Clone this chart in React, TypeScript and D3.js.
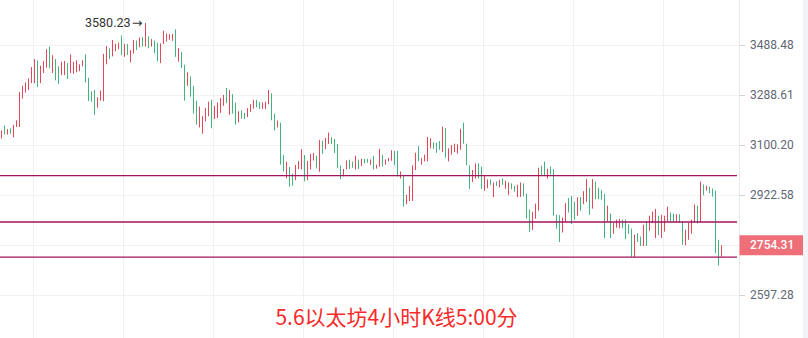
import React from 'react';
import * as d3 from 'd3';

const opens = [
  3124, 3172, 3139, 3162, 3129, 3167, 3167, 3275, 3298, 3308,
  3335, 3335, 3426, 3335, 3375, 3396, 3482, 3375, 3431, 3402,
  3367, 3367, 3415, 3375, 3372, 3378, 3383, 3402, 3450, 3356,
  3303, 3308, 3240, 3267, 3265, 3410, 3474, 3442, 3463, 3471,
  3528, 3440, 3493, 3418, 3454, 3507, 3480, 3522, 3482, 3524,
  3482, 3507, 3498, 3415, 3493, 3503, 3510, 3506, 3554, 3420,
  3460, 3408, 3324, 3362, 3324, 3267, 3165, 3142, 3188, 3207,
  3270, 3197, 3201, 3220, 3247, 3316, 3213, 3292, 3260, 3184,
  3229, 3220, 3204, 3223, 3236, 3270, 3262, 3235, 3235, 3253,
  3295, 3217, 3165, 3183, 3064, 2981, 3021, 2997, 2974, 3014,
  3012, 3064, 2974, 3012, 3044, 3061, 3004, 3116, 3085, 3104,
  3129, 3122, 3104, 3026, 2988, 3012, 3047, 3040, 3012, 3047,
  3024, 3050, 3050, 3029, 3060, 3015, 3022, 3065, 3029, 3041,
  3043, 3079, 3079, 2980, 2991, 2891, 2902, 2902, 3010, 3096,
  3029, 3041, 3041, 3088, 3110, 3108, 3115, 3074, 3163, 3041,
  3065, 3074, 3069, 3083, 3183, 3105, 3027, 2968, 2980, 3034,
  3022, 2937, 2946, 2977, 2916, 2970, 2949, 2980, 2944, 2923,
  2963, 2954, 2916, 2916, 2963, 2927, 2873, 2804, 2842, 2869,
  3025, 3040, 2980, 3022, 3012, 2856, 2854, 2796, 2830, 2912,
  2919, 2899, 2852, 2916, 2891, 2899, 2948, 2876, 2969, 2948,
  2939, 2926, 2832, 2859, 2792, 2812, 2810, 2839, 2839, 2823,
  2809, 2716, 2794, 2783, 2752, 2832, 2802, 2829, 2778, 2852,
  2778, 2799, 2832, 2863, 2859, 2830, 2857, 2832, 2754, 2772,
  2792, 2830, 2886, 2830, 2959, 2938, 2952, 2945, 2938, 2772,
  2718,
];

const closes = [
  3154, 3139, 3159, 3142, 3174, 3192, 3300, 3324, 3338, 3354,
  3399, 3431, 3319, 3404, 3423, 3471, 3394, 3447, 3346, 3332,
  3420, 3423, 3351, 3450, 3420, 3426, 3410, 3426, 3338, 3265,
  3262, 3212, 3280, 3306, 3452, 3484, 3431, 3509, 3493, 3498,
  3447, 3493, 3448, 3468, 3509, 3468, 3519, 3482, 3580.23, 3475,
  3513, 3454, 3422, 3495, 3548, 3536, 3533, 3534, 3440, 3476,
  3395, 3267, 3378, 3282, 3217, 3176, 3244, 3207, 3238, 3263,
  3162, 3247, 3260, 3277, 3289, 3257, 3308, 3217, 3176, 3226,
  3198, 3197, 3238, 3253, 3270, 3241, 3235, 3260, 3262, 3308,
  3192, 3154, 3191, 3029, 3005, 3040, 2952, 2955, 3028, 3042,
  3085, 2970, 3042, 3068, 3071, 3016, 3119, 3068, 3126, 3146,
  3104, 3071, 3018, 2978, 3014, 3044, 3014, 3018, 3061, 3014,
  3050, 3034, 3036, 3048, 3012, 3029, 3086, 3022, 3048, 3053,
  3081, 3027, 2987, 3005, 2883, 2923, 2954, 3027, 3072, 3041,
  3053, 3065, 3130, 3125, 3086, 3072, 3083, 3168, 3055, 3088,
  3100, 3105, 3103, 3160, 3105, 3027, 2944, 3010, 3034, 2980,
  2944, 2989, 2977, 2958, 2966, 2954, 2975, 2958, 2973, 2966,
  2942, 2934, 2958, 2966, 2918, 2842, 2798, 2865, 2893, 3018,
  2991, 2992, 3015, 2994, 2852, 2809, 2765, 2846, 2894, 2863,
  2824, 2839, 2915, 2869, 2936, 2978, 2855, 2978, 2908, 2908,
  2906, 2778, 2886, 2778, 2829, 2839, 2842, 2810, 2774, 2792,
  2717, 2789, 2765, 2752, 2822, 2752, 2852, 2866, 2875, 2788,
  2855, 2852, 2883, 2832, 2830, 2857, 2828, 2756, 2805, 2828,
  2839, 2890, 2826, 2969, 2922, 2955, 2929, 2917, 2729, 2689,
  2754.31,
];

const tickValues = [3488.48, 3288.61, 3100.2, 2922.58, 2755.1, 2597.28];
const levelLines = [2990, 2831, 2716];
const title = '5.6以太坊4小时K线5:00分';

const W = 808;
const H = 338;
const RED = '#e4475a';
const GREEN = '#41b57d';

export default function App() {
  const axisX = 739;
  const n = opens.length;
  const x = d3.scaleLinear().domain([0, n - 1]).range([1.5, 721.5]);
  const y = d3.scaleLog().domain([3488.48, 2597.28]).range([45, 295]);

  const gridIdx = d3.range(8).map((k) => 10.5 + 30 * k);
  const lastPrice = closes[n - 1];
  const highs = opens.map((o, i) => Math.max(o, closes[i]));
  const iMax = d3.maxIndex(highs);
  const maxVal = highs[iMax];
  const fmt = d3.format('.2f');

  return (
    <svg
      width={W}
      height={H}
      style={{ position: 'absolute', left: 0, top: 0, background: '#fff' }}
      fontFamily="Roboto, 'Noto Sans', sans-serif"
    >
      <rect x={0} y={0} width={W} height={H} fill="#ffffff" />
      {tickValues.map((t) => (
        <line key={'h' + t} x1={0} x2={axisX} y1={Math.round(y(t)) + 0.5} y2={Math.round(y(t)) + 0.5} stroke="#f0f1f3" />
      ))}
      {gridIdx.map((g) => (
        <line key={'v' + g} x1={Math.round(x(g)) + 0.5} x2={Math.round(x(g)) + 0.5} y1={0} y2={H} stroke="#f0f1f3" />
      ))}
      {opens.map((o, i) => {
        const c = closes[i];
        const top = y(Math.max(o, c));
        const bot = y(Math.min(o, c));
        return (
          <rect
            key={i}
            x={Math.floor(x(i))}
            y={top}
            width={1}
            height={Math.max(1, bot - top)}
            fill={c >= o ? RED : GREEN}
          />
        );
      })}
      {levelLines.map((l) => (
        <line key={'l' + l} x1={0} x2={axisX - 2} y1={y(l)} y2={y(l)} stroke="#a3125f" strokeWidth={1.4} />
      ))}
      <text x={x(iMax) - 15} y={y(maxVal) + 4} textAnchor="end" fontSize={12.5} fill="#333">
        {fmt(maxVal)}
      </text>
      <text x={x(iMax) - 13.5} y={y(maxVal) + 4} fontSize={12.5} fill="#333" fontFamily="'DejaVu Sans', sans-serif">
        →
      </text>
      <line x1={axisX + 0.5} x2={axisX + 0.5} y1={0} y2={H} stroke="#e6e8ec" />
      {tickValues.map((t) => (
        <g key={'t' + t}>
          <line x1={axisX + 1} x2={axisX + 6} y1={Math.round(y(t)) + 0.5} y2={Math.round(y(t)) + 0.5} stroke="#d0d3da" />
          <text x={750} y={y(t)} dy="0.35em" fontSize={12} fill="#5f6675">
            {fmt(t)}
          </text>
        </g>
      ))}
      <rect x={axisX + 0.5} y={y(lastPrice) - 10} width={63.5} height={20} fill="#ef6f78" />
      <text x={750} y={y(lastPrice)} dy="0.35em" fontSize={12} fill="#ffffff" fontWeight={500}>
        {fmt(lastPrice)}
      </text>
      <rect x={803} y={0} width={5} height={H} fill="#f1f3f7" />
      <text
        x={396.5}
        y={325}
        textAnchor="middle"
        fontSize={21}
        fill="#f72a2a"
        fontFamily="'Noto Sans CJK SC', sans-serif"
      >
        {title}
      </text>
    </svg>
  );
}
